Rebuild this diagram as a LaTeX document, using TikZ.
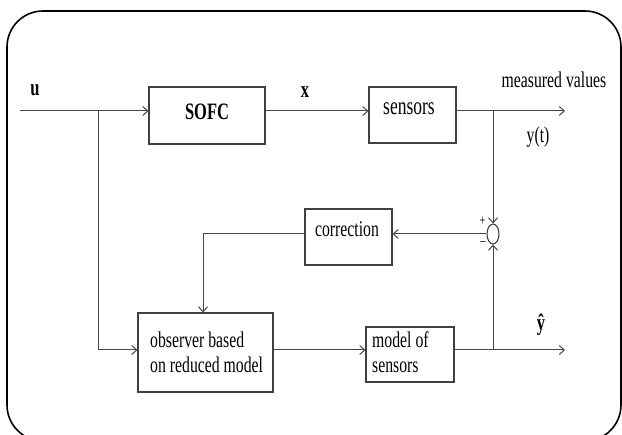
\documentclass[tikz,border=0pt]{standalone}
\usepackage{fontspec}
\setmainfont[FakeStretch=0.7]{Liberation Serif}
\usetikzlibrary{arrows.meta,shapes.geometric}
\tikzset{
  blk/.style={draw=black!75,line width=1.1pt,rectangle,inner sep=0pt},
  lbl/.style={inner sep=0pt,font=\fontsize{22.5}{25}\selectfont},
  blbl/.style={inner sep=0pt,font=\fontsize{23.5}{26}\selectfont\bfseries},
  wire/.style={draw=black!72,line width=1pt},
  arr/.style={wire,-{Straight Barb[length=5pt,width=9pt,line width=1pt]}},
  sgn/.style={inner sep=0pt,font=\fontsize{15}{16}\selectfont}
}
\begin{document}
\begin{tikzpicture}[x=1pt,y=-1pt]
\useasboundingbox (0,0) rectangle (622,435);
% frame
\draw[line width=1.6pt,rounded corners=36pt] (7,11) rectangle (621,441);
% blocks
\node[blk,minimum width=116pt,minimum height=57pt] (sofc) at (207,115.5) {};
\node[blk,minimum width=87pt,minimum height=56pt] (sens) at (412.5,115) {};
\node[blk,minimum width=87pt,minimum height=56pt] (corr) at (348.5,237) {};
\node[blk,minimum width=135pt,minimum height=79pt] (obs) at (205.5,352.5) {};
\node[blk,minimum width=88pt,minimum height=55pt] (mos) at (410,354.5) {};
\node[draw=black!75,line width=1.1pt,ellipse,minimum width=12pt,minimum height=20pt,inner sep=0pt] (sum) at (493,234) {};
% texts
\node[blbl] (tsofc) at (207,112) {SOFC};
\node[lbl,font=\fontsize{25}{27}\selectfont] (tsens) at (409,109) {sensors};
\node[lbl] (tcorr) at (347,229) {correction};
\node[lbl,align=left,anchor=west] (tobs) at (150,352) {observer based\\on reduced model};
\node[lbl,align=left,anchor=west] (tmos) at (372,352) {model of\\sensors};
\node[blbl] (tu) at (35,90) {u};
\node[blbl] (tx) at (305,92) {x};
\node[lbl] (tmv) at (554,80) {measured values};
\node[lbl] (tyt) at (538,137) {y(t)};
\node[blbl] (tyh) at (541,325) {\^{y}};
\node[sgn] (tplus) at (482.5,221) {+};
\node[sgn] (tminus) at (483,244) {\textendash};
% coordinates
\coordinate (uin) at (20,111);
\coordinate (b1) at (98,111);
\coordinate (b2) at (98,350);
\coordinate (yout) at (565,111);
\coordinate (t1) at (493,111);
\coordinate (yhout) at (565,350);
\coordinate (t2) at (493,350);
\coordinate (c1) at (203,234);
% wires
\draw[arr] (uin) -- (sofc.west |- uin);
\draw[arr] (sofc.east |- uin) -- (sens.west |- uin);
\draw[arr] (sens.east |- uin) -- (yout);
\draw[wire] (b1) -- (b2);
\draw[arr] (b2) -- (obs.west |- b2);
\draw[arr] (obs.east |- b2) -- (mos.west |- b2);
\draw[arr] (mos.east |- b2) -- (yhout);
\draw[arr] (t1) -- (sum.north);
\draw[arr] (t2) -- (sum.south);
\draw[arr] (sum.west) -- (corr.east |- sum.west);
\draw[wire] (corr.west |- sum.west) -- (c1);
\draw[arr] (c1) -- (c1 |- obs.north);
\end{tikzpicture}
\end{document}
